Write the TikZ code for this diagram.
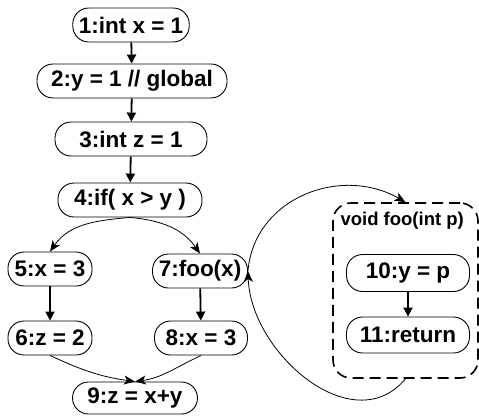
\documentclass[tikz,border=0pt]{standalone}
\usepackage{fontspec}
\setmainfont{Liberation Sans}
\usetikzlibrary{arrows.meta}
\begin{document}
\begin{tikzpicture}[x=1pt,y=-1pt,
  stmt/.style={draw,line width=0.9pt,rounded corners=16pt,minimum height=34pt,
    inner xsep=6pt,font=\fontsize{22.5}{24}\selectfont\bfseries},
  straight/.style={line width=1.8pt,-{Triangle[length=9pt,width=9pt]}},
  curved/.style={line width=0.8pt,-{Stealth[length=11pt,width=9pt,inset=3pt]}},
  fnbox/.style={draw,line width=1.6pt,dash pattern=on 11pt off 6pt,rounded corners=18pt}]
\useasboundingbox (0,0) rectangle (479,415);

% main-line statements
\node[stmt,minimum width=113pt] (n1) at (131,25) {1:int x = 1};
\node[stmt,minimum width=190pt] (n2) at (132,81) {2:y = 1 // global};
\node[stmt,minimum width=152pt] (n3) at (131,139) {3:int z = 1};
\node[stmt,minimum width=144pt] (n4) at (130,200) {4:if( x > y )};
\node[stmt,minimum width=84pt] (n5) at (50,269) {5:x = 3};
\node[stmt,minimum width=84pt] (n6) at (50,338) {6:z = 2};
\node[stmt,minimum width=95pt] (n7) at (200,271) {7:foo(x)};
\node[stmt,minimum width=93pt] (n8) at (201,338) {8:x = 3};
\node[stmt,minimum width=125pt,minimum height=32pt] (n9) at (135,398) {9:z = x+y};

% callee body
\node[fnbox,minimum width=145pt,minimum height=175pt] (fn) at (405.5,290.5) {};
\node[anchor=west,font=\fontsize{18.5}{20}\selectfont\bfseries] (fnlabel) at (337,221) {void foo(int p)};
\node[stmt,minimum width=123pt,minimum height=37pt] (n10) at (408,273) {10:y = p};
\node[stmt,minimum width=123pt,minimum height=36pt] (n11) at (408,335) {11:return};

% sequential flow
\draw[straight] (n1) -- (n2);
\draw[straight] (n2) -- (n3);
\draw[straight] (n3) -- (n4);
\draw[straight] (n5) -- (n6);
\draw[straight] (n7) -- (n8);
\draw[straight] (n10) -- (n11);

% branches and join
\draw[curved] (n4.south) to[out=185,in=55] (n5.north);
\draw[curved] (n4.south) to[out=-5,in=125] (n7.north);
\draw[curved] (n6.south) to[out=-25,in=172] (n9.north);
\draw[curved] (n8.south) to[out=-155,in=8] (n9.north);

% call and return
\draw[curved] (n7.east) to[out=85,in=150,looseness=1.1] (fn.north);
\draw[curved] (fn.south) to[out=-130,in=-88,looseness=1.1] (n7.east);
\end{tikzpicture}
\end{document}
